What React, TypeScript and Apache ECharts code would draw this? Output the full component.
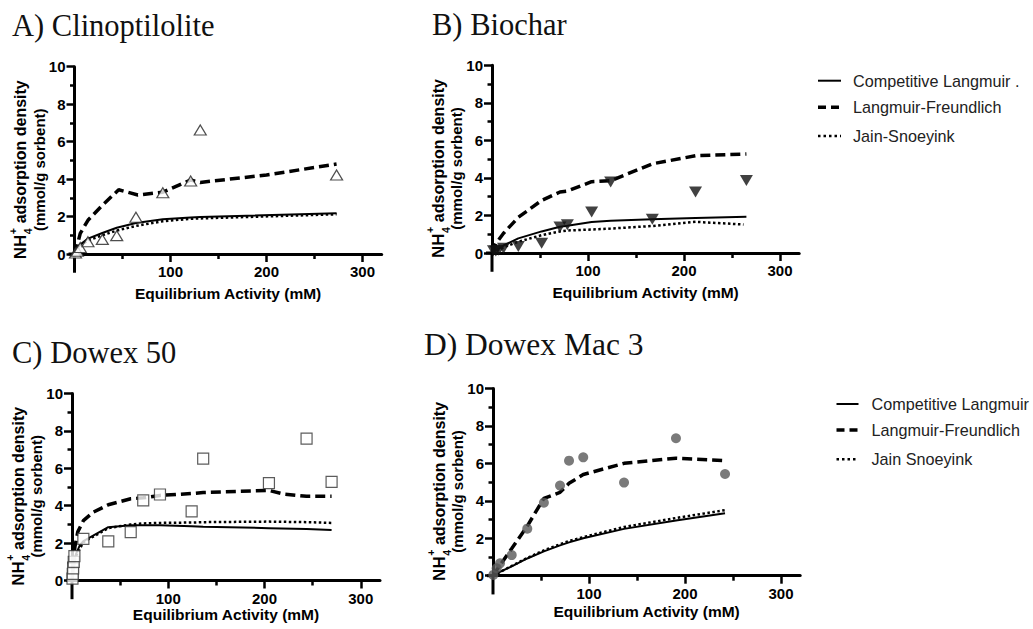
import React, { useEffect, useRef } from "react";
import * as echarts from "echarts";

type Pt = [number, number];

// ---------- texts ----------
const panelTitles = ["A) Clinoptilolite", "B) Biochar", "C) Dowex 50", "D) Dowex Mac 3"];
const xMajorTicks = [100, 200, 300];
const xMinorTicks = [50, 150, 250];
const yMajorTicks = [0, 2, 4, 6, 8, 10];
const yMinorTicks = [1, 3, 5, 7, 9];
const xAxisTitle = "Equilibrium Activity (mM)";
const yAxisTitleParts = ["NH", "4", "+", " adsorption density"];
const yAxisTitleLine2 = "(mmol/g sorbent)";
const legendTopLabels = ["Competitive Langmuir .", "Langmuir-Freundlich", "Jain-Snoeyink"];
const legendBottomLabels = ["Competitive Langmuir", "Langmuir-Freundlich", "Jain Snoeyink"];

// ---------- A) Clinoptilolite ----------
const clinoObserved: Pt[] = [[1, 0.05], [3, 0.15], [6, 0.35], [14, 0.65], [29, 0.78], [44, 0.98], [64, 1.96], [92, 3.27], [121, 3.9], [131, 6.62], [273, 4.22]];
const clinoLangmuir: Pt[] = [[0, 0], [3, 0.3], [6, 0.5], [14, 0.82], [29, 1.12], [44, 1.4], [64, 1.65], [92, 1.85], [121, 1.95], [131, 1.98], [273, 2.18]];
const clinoLangmuirFreundlich: Pt[] = [[0, 0], [3, 0.5], [6, 1.1], [14, 1.8], [29, 2.6], [46, 3.43], [66, 3.15], [92, 3.3], [121, 3.95], [131, 3.82], [200, 4.22], [273, 4.8]];
const clinoJainSnoeyink: Pt[] = [[0, 0], [3, 0.25], [6, 0.45], [14, 0.72], [29, 1.0], [44, 1.25], [64, 1.5], [92, 1.75], [121, 1.88], [131, 1.9], [273, 2.12]];

// ---------- B) Biochar ----------
const biocharObserved: Pt[] = [[1.5, 0.12], [4, 0.1], [7, 0.15], [12, 0.25], [27.4, 0.35], [51.7, 0.52], [70.8, 1.38], [78.5, 1.5], [103.8, 2.18], [123.6, 3.78], [167, 1.8], [212, 3.25], [265, 3.86]];
const biocharLangmuir: Pt[] = [[0, 0], [12, 0.4], [27.4, 0.78], [51.7, 1.15], [70.8, 1.4], [78.5, 1.45], [103.8, 1.65], [123.6, 1.72], [167, 1.8], [212, 1.87], [265, 1.93]];
const biocharLangmuirFreundlich: Pt[] = [[0, 0], [4, 0.5], [12, 1.05], [27.4, 1.9], [51.7, 2.8], [70.8, 3.25], [78.5, 3.3], [103.8, 3.8], [123.6, 3.85], [167, 4.75], [212, 5.18], [265, 5.27]];
const biocharJainSnoeyink: Pt[] = [[0, 0], [12, 0.3], [27.4, 0.6], [51.7, 0.95], [70.8, 1.15], [78.5, 1.2], [103.8, 1.25], [123.6, 1.3], [167, 1.44], [212, 1.66], [262, 1.52]];

// ---------- C) Dowex 50 ----------
const dowex50Observed: Pt[] = [[0.5, 0.1], [0.8, 0.35], [1.2, 0.65], [1.8, 1.0], [2.5, 1.3], [11.8, 2.23], [37.7, 2.09], [61, 2.59], [74, 4.28], [91.4, 4.6], [124.3, 3.7], [136.3, 6.52], [204.6, 5.21], [243.7, 7.59], [269.7, 5.27]];
const dowex50Langmuir: Pt[] = [[0, 0], [1, 0.4], [2, 0.8], [4, 1.4], [8.3, 1.9], [11.8, 2.1], [37.7, 2.85], [61, 2.95], [74, 2.95], [91.4, 2.95], [124.3, 2.9], [136.3, 2.88], [204.6, 2.8], [243.7, 2.75], [269.7, 2.7]];
const dowex50LangmuirFreundlich: Pt[] = [[0, 0], [1, 0.6], [3, 1.8], [6, 2.6], [11.8, 3.2], [22, 3.65], [37.7, 4.05], [61, 4.37], [74, 4.42], [91.4, 4.55], [124.3, 4.65], [136.3, 4.7], [204.6, 4.82], [220, 4.62], [243.7, 4.5], [269.7, 4.5]];
const dowex50JainSnoeyink: Pt[] = [[0, 0], [1, 0.35], [2, 0.75], [4, 1.3], [11.8, 2.05], [37.7, 2.8], [61, 3.0], [74, 3.05], [91.4, 3.08], [124.3, 3.1], [136.3, 3.12], [204.6, 3.15], [243.7, 3.12], [269.7, 3.08]];

// ---------- D) Dowex Mac 3 ----------
const dowexMac3Observed: Pt[] = [[0.3, 0.04], [3.8, 0.4], [7.3, 0.66], [19.5, 1.1], [35.7, 2.51], [53, 3.9], [69.8, 4.81], [79.2, 6.14], [94, 6.32], [136.5, 4.97], [190.6, 7.34], [241.7, 5.43]];
const dowexMac3Langmuir: Pt[] = [[0, 0], [3.8, 0.1], [7.3, 0.2], [19.5, 0.5], [35.7, 0.92], [53, 1.3], [69.8, 1.62], [79.2, 1.78], [94, 2.0], [136.5, 2.5], [190.6, 2.95], [241.7, 3.33]];
const dowexMac3LangmuirFreundlich: Pt[] = [[0, 0], [3.8, 0.3], [7.3, 0.55], [19.5, 1.45], [35.7, 2.65], [53, 4.13], [69.8, 4.45], [79.2, 4.93], [94, 5.4], [136.5, 6.0], [190.6, 6.27], [241.7, 6.15]];
const dowexMac3JainSnoeyink: Pt[] = [[0, 0], [3.8, 0.1], [7.3, 0.2], [19.5, 0.52], [35.7, 0.95], [53, 1.35], [69.8, 1.68], [79.2, 1.85], [94, 2.06], [136.5, 2.6], [190.6, 3.08], [241.7, 3.5]];

// ---------- layout / styles ----------
const X_MIN = 0, X_MAX = 320, Y_MIN = 0, Y_MAX = 10;
const SANS = "Liberation Sans";
const SERIF = "Liberation Serif";

const panels = [
  {
    title: panelTitles[0], obs: clinoObserved, cl: clinoLangmuir, lf: clinoLangmuirFreundlich, js: clinoJainSnoeyink,
    grid: { left: 74.5, top: 66.7, width: 307.2, height: 187.3 }, titleX: 12, titleY: 25.8, titleSize: 30.5, nameGap: 31,
    symbol: "triangle", symbolSize: [12, 10], symbolRotate: 0,
    itemStyle: { color: "#fff", borderColor: "#222", borderWidth: 1.2 },
  },
  {
    title: panelTitles[1], obs: biocharObserved, cl: biocharLangmuir, lf: biocharLangmuirFreundlich, js: biocharJainSnoeyink,
    grid: { left: 492, top: 65.3, width: 307.2, height: 187.7 }, titleX: 432, titleY: 25, titleSize: 30.5, nameGap: 31,
    symbol: "triangle", symbolSize: [13, 11], symbolRotate: 180,
    itemStyle: { color: "#111", borderWidth: 0 },
  },
  {
    title: panelTitles[2], obs: dowex50Observed, cl: dowex50Langmuir, lf: dowex50LangmuirFreundlich, js: dowex50JainSnoeyink,
    grid: { left: 72, top: 393.5, width: 308, height: 187 }, titleX: 12, titleY: 352.5, titleSize: 30.5, nameGap: 24,
    symbol: "rect", symbolSize: 11, symbolRotate: 0,
    itemStyle: { color: "#fff", borderColor: "#333", borderWidth: 1.2 },
  },
  {
    title: panelTitles[3], obs: dowexMac3Observed, cl: dowexMac3Langmuir, lf: dowexMac3LangmuirFreundlich, js: dowexMac3JainSnoeyink,
    grid: { left: 493, top: 388.4, width: 307.2, height: 187.3 }, titleX: 424, titleY: 344.2, titleSize: 31.5, nameGap: 28,
    symbol: "circle", symbolSize: 10, symbolRotate: 0,
    itemStyle: { color: "#595959", borderWidth: 0 },
  },
];

const legendBlocks = [
  { labels: legendTopLabels, x1: 818, x2: 841, textX: 853, ys: [80.7, 107.3, 136] },
  { labels: legendBottomLabels, x1: 836.5, x2: 858.5, textX: 871.5, ys: [404, 430, 459.3] },
];

const DASHED = [10, 5];
const DOTTED = [2.5, 2.5];

function buildOption(): any {
  const grid: any[] = [];
  const xAxis: any[] = [];
  const yAxis: any[] = [];
  const series: any[] = [];
  const axisLabelStyle = { fontFamily: SANS, fontWeight: "bold", fontSize: 15, color: "#000" };
  panels.forEach((p, i) => {
    grid.push({ ...p.grid, containLabel: false });
    xAxis.push({
      type: "value", gridIndex: i, position: "bottom", min: X_MIN, max: X_MAX,
      axisLine: { show: true, onZero: false, lineStyle: { color: "#000", width: 3 } },
      axisTick: { show: true, customValues: xMajorTicks, length: 8, lineStyle: { color: "#000", width: 2.5 } },
      axisLabel: { show: true, customValues: xMajorTicks, margin: 10, ...axisLabelStyle },
      splitLine: { show: false },
      name: xAxisTitle, nameLocation: "middle", nameGap: p.nameGap,
      nameTextStyle: { fontFamily: SANS, fontWeight: "bold", fontSize: 15.5, color: "#000" },
    });
    xAxis.push({
      type: "value", gridIndex: i, position: "bottom", offset: 0, min: X_MIN, max: X_MAX,
      axisLine: { show: false, onZero: false },
      axisTick: { show: true, customValues: xMinorTicks, length: 5, lineStyle: { color: "#000", width: 2.5 } },
      axisLabel: { show: false },
      splitLine: { show: false },
    });
    yAxis.push({
      type: "value", gridIndex: i, position: "left", min: Y_MIN, max: Y_MAX,
      axisLine: { show: true, onZero: false, lineStyle: { color: "#000", width: 3 } },
      axisTick: { show: true, customValues: yMajorTicks, length: 8, lineStyle: { color: "#000", width: 2.5 } },
      axisLabel: { show: true, customValues: yMajorTicks, margin: 9, ...axisLabelStyle },
      splitLine: { show: false },
    });
    yAxis.push({
      type: "value", gridIndex: i, position: "left", offset: 0, min: Y_MIN, max: Y_MAX,
      axisLine: { show: false, onZero: false },
      axisTick: { show: true, customValues: yMinorTicks, length: 4.5, lineStyle: { color: "#000", width: 2.5 } },
      axisLabel: { show: false },
      splitLine: { show: false },
    });
    const xi = 2 * i, yi = 2 * i;
    const lineBase = { type: "line", xAxisIndex: xi, yAxisIndex: yi, showSymbol: false, symbol: "none", silent: true, z: 2, clip: false };
    series.push({ ...lineBase, name: "Competitive Langmuir", data: p.cl, lineStyle: { color: "#000", width: 2 } });
    series.push({ ...lineBase, name: "Langmuir-Freundlich", data: p.lf, lineStyle: { color: "#000", width: 3.5, type: DASHED } });
    series.push({ ...lineBase, name: "Jain-Snoeyink", data: p.js, lineStyle: { color: "#000", width: 2.5, type: DOTTED } });
    series.push({
      type: "scatter", xAxisIndex: xi, yAxisIndex: yi, name: "Observed", data: p.obs, z: 3, clip: false,
      symbol: p.symbol, symbolSize: p.symbolSize, symbolRotate: p.symbolRotate, itemStyle: p.itemStyle,
    });
  });
  return { animation: false, backgroundColor: "#fff", grid, xAxis, yAxis, series };
}

function buildGraphic(chart: any): any[] {
  const els: any[] = [];
  const canvas = document.createElement("canvas");
  const ctx = canvas.getContext("2d")!;
  const tw = (t: string, font: string) => { ctx.font = font; return ctx.measureText(t).width; };

  const nhFont = `bold 17px "${SANS}"`;
  const mainFont = `bold 16px "${SANS}"`;
  const smallFont = `bold 10.5px "${SANS}"`;
  const line2Font = `bold 15px "${SANS}"`;

  panels.forEach((p, i) => {
    els.push({
      type: "text", x: p.titleX, y: p.titleY,
      style: { text: p.title, font: `${p.titleSize}px "${SERIF}"`, fill: "#111", align: "left", verticalAlign: "middle" },
    });
    const o = chart.convertToPixel({ gridIndex: i }, [0, 0]);
    const one = chart.convertToPixel({ gridIndex: i }, [0, 1]);
    const mid = chart.convertToPixel({ gridIndex: i }, [0, 4.5]);
    const ax = o[0], ay = o[1];
    const unitY = ay - one[1];
    // axis extensions below zero (y) and left of zero (x), as in the original figure
    els.push({ type: "line", shape: { x1: ax, y1: ay, x2: ax, y2: ay + unitY }, style: { stroke: "#000", lineWidth: 3 } });
    els.push({ type: "line", shape: { x1: ax - 6, y1: ay, x2: ax, y2: ay }, style: { stroke: "#000", lineWidth: 3 } });

    const cy = mid[1];
    const wNH = tw(yAxisTitleParts[0], nhFont);
    const wSub = tw(yAxisTitleParts[1], smallFont);
    const wRest = tw(yAxisTitleParts[3], mainFont);
    const total = wNH + wSub + 1 + wRest;
    const start = -total / 2;
    const txt = (x: number, y: number, t: string, font: string) => ({
      type: "text", x, y,
      style: { text: t, font, fill: "#000", align: "left", verticalAlign: "middle" },
    });
    els.push({
      type: "group", x: ax - 54, y: cy, rotation: Math.PI / 2,
      children: [
        txt(start, 0, yAxisTitleParts[0], nhFont),
        txt(start + wNH + 0.5, 7.5, yAxisTitleParts[1], smallFont),
        txt(start + wNH + 0.5, -8, yAxisTitleParts[2], smallFont),
        txt(start + wNH + wSub + 1, 0, yAxisTitleParts[3], mainFont),
      ],
    });
    els.push({
      type: "group", x: ax - 35.5, y: cy, rotation: Math.PI / 2,
      children: [
        { type: "text", x: 0, y: 0, style: { text: yAxisTitleLine2, font: line2Font, fill: "#000", align: "center", verticalAlign: "middle" } },
      ],
    });
  });

  legendBlocks.forEach((b) => {
    const styles = [
      { lineWidth: 2, lineDash: null as any },
      { lineWidth: 3.5, lineDash: [8, 5] },
      { lineWidth: 2.5, lineDash: [2.5, 3] },
    ];
    b.labels.forEach((lab, k) => {
      const y = b.ys[k];
      els.push({
        type: "line", shape: { x1: b.x1, y1: y, x2: b.x2, y2: y },
        style: { stroke: "#000", lineWidth: styles[k].lineWidth, lineDash: styles[k].lineDash },
      });
      els.push({
        type: "text", x: b.textX, y,
        style: { text: lab, font: `16.2px "${SANS}"`, fill: "#222", align: "left", verticalAlign: "middle" },
      });
    });
  });
  return els;
}

export default function App() {
  const ref = useRef<HTMLDivElement>(null);
  useEffect(() => {
    const chart = echarts.init(ref.current!, null, { renderer: "svg" });
    chart.setOption(buildOption());
    chart.setOption({ graphic: buildGraphic(chart) });
    return () => chart.dispose();
  }, []);
  return (
    <div
      ref={ref}
      style={{ position: "absolute", left: 0, top: 0, width: 1033, height: 629, background: "#fff" }}
    />
  );
}
